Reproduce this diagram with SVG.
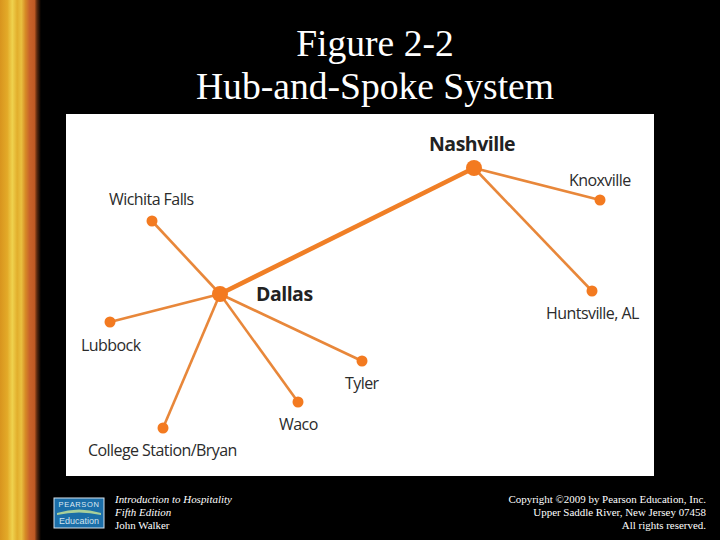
<svg xmlns="http://www.w3.org/2000/svg" width="720" height="540" viewBox="0 0 720 540">
<style>
.title{font:37.6px "Liberation Serif",serif;fill:#fff;text-anchor:middle}
.foot{font:10.95px "Liberation Serif",serif;fill:#fff}
.it{font-style:italic}
.city{font:16px "Open Sans","Liberation Sans",sans-serif;fill:#2b2b2b;letter-spacing:-.56px}
.hub{font:bold 19.5px "Open Sans","Liberation Sans",sans-serif;fill:#222;letter-spacing:-.5px}
.spoke{stroke:#e8873a;stroke-width:2.6;fill:none}
.trunk{stroke:#f07f26;stroke-width:4.6;fill:none}
.dot{fill:#f37a20}
</style>
<defs>
<linearGradient id="bar" x1="0" x2="1" y1="0" y2="0">
<stop offset="0" stop-color="#d8941e"/>
<stop offset=".18" stop-color="#e3aa28"/>
<stop offset=".3" stop-color="#efd24e"/>
<stop offset=".42" stop-color="#e2ae2c"/>
<stop offset=".52" stop-color="#e9c040"/>
<stop offset=".62" stop-color="#d68a26"/>
<stop offset=".72" stop-color="#c8622a"/>
<stop offset=".84" stop-color="#c05a24"/>
<stop offset=".9" stop-color="#5a2a10"/>
<stop offset="1" stop-color="#000"/>
</linearGradient>
</defs>
<rect width="720" height="540" fill="#000"/>
<rect x="0" y="0" width="41" height="540" fill="url(#bar)"/>
<text class="title" x="375" y="56">Figure 2-2</text>
<text class="title" x="375" y="99">Hub-and-Spoke System</text>
<rect x="66" y="114" width="588" height="362" fill="#fff"/>
<g id="connectors">
<line class="trunk" x1="220" y1="294" x2="474" y2="168"/>
<line class="spoke" x1="474" y1="168" x2="600" y2="200"/>
<line class="spoke" x1="474" y1="168" x2="592" y2="291"/>
<line class="spoke" x1="220" y1="294" x2="152" y2="221"/>
<line class="spoke" x1="220" y1="294" x2="110" y2="322"/>
<line class="spoke" x1="220" y1="294" x2="163" y2="428"/>
<line class="spoke" x1="220" y1="294" x2="298" y2="402"/>
<line class="spoke" x1="220" y1="294" x2="362" y2="361"/>
</g>
<g id="nashville"><circle class="dot" cx="474" cy="168" r="8"/><text class="hub" x="429" y="151">Nashville</text></g>
<g id="knoxville"><circle class="dot" cx="600" cy="200" r="5.5"/><text class="city" x="569" y="185.5">Knoxville</text></g>
<g id="huntsville"><circle class="dot" cx="592" cy="291" r="5.5"/><text class="city" x="546" y="318.500">Huntsville, AL</text></g>
<g id="wichita-falls"><circle class="dot" cx="152" cy="221" r="5.5"/><text class="city" x="109" y="204.500">Wichita Falls</text></g>
<g id="dallas"><circle class="dot" cx="220" cy="294" r="8"/><text class="hub" x="256" y="301">Dallas</text></g>
<g id="lubbock"><circle class="dot" cx="110" cy="322" r="5.5"/><text class="city" x="81" y="350.500">Lubbock</text></g>
<g id="college-station"><circle class="dot" cx="163" cy="428" r="5.5"/><text class="city" x="88" y="455.500">College Station/Bryan</text></g>
<g id="waco"><circle class="dot" cx="298" cy="402" r="5.5"/><text class="city" x="279" y="429.500">Waco</text></g>
<g id="tyler"><circle class="dot" cx="362" cy="361" r="5.5"/><text class="city" x="345" y="389">Tyler</text></g>
<g id="logo">
<rect x="54" y="498" width="50" height="30" fill="#1b6ea8" stroke="#d8e4ee" stroke-width="1"/>
<path d="M57 513Q79 506 101 513L101 515Q79 510 57 515Z" fill="#a8cf9a"/>
<text x="79" y="507" font-family="Liberation Sans,sans-serif" font-size="7.5" fill="#dfeaf2" text-anchor="middle" letter-spacing=".6">PEARSON</text>
<text x="79" y="524" font-family="Liberation Sans,sans-serif" font-size="9" fill="#cfe4ee" text-anchor="middle">Education</text>
</g>
<text class="foot it" x="115" y="503">Introduction to Hospitality</text>
<text class="foot it" x="115" y="516">Fifth Edition</text>
<text class="foot" x="115" y="529">John Walker</text>
<text class="foot" x="706" y="503" text-anchor="end">Copyright ©2009 by Pearson Education, Inc.</text>
<text class="foot" x="706" y="516" text-anchor="end">Upper Saddle River, New Jersey 07458</text>
<text class="foot" x="706" y="529" text-anchor="end">All rights reserved.</text>
</svg>
